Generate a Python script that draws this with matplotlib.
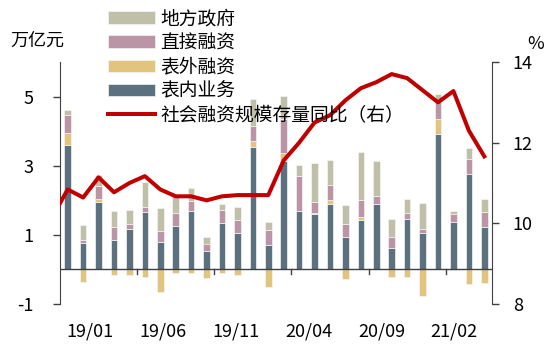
import numpy as np
import matplotlib
matplotlib.use('Agg')
import matplotlib.pyplot as plt

plt.rcParams['font.family'] = ['Noto Sans CJK SC', 'DejaVu Sans']
plt.rcParams['axes.unicode_minus'] = False

# monthly data, 19/01 .. 21/04 (trillion yuan)
on_bs = [3.59, 0.76, 1.94, 0.84, 1.18, 1.65, 0.78, 1.27, 1.70, 0.54, 1.33, 1.04, 3.53, 0.72,
         3.14, 1.70, 1.59, 1.90, 0.95, 1.44, 1.88, 0.63, 1.47, 1.04, 3.92, 1.38, 2.77, 1.23]
off_bs = [0.36, -0.36, 0.10, -0.15, -0.15, -0.23, -0.64, -0.11, -0.11, -0.24, -0.11, -0.15, 0.19, -0.50,
          0.23, 0.00, 0.03, 0.11, -0.28, 0.09, 0.00, -0.23, -0.21, -0.76, 0.43, -0.02, -0.43, -0.38]
direct = [0.51, 0.08, 0.36, 0.40, 0.14, 0.17, 0.34, 0.35, 0.28, 0.21, 0.38, 0.40, 0.44, 0.43,
          0.99, 0.99, 0.32, 0.42, 0.37, 0.48, 0.23, 0.32, 0.15, 0.14, 0.51, 0.21, 0.41, 0.44]
local_gov = [0.16, 0.44, 0.32, 0.46, 0.39, 0.70, 0.66, 0.54, 0.38, 0.19, 0.19, 0.38, 0.78, 0.21,
             0.67, 0.32, 1.13, 0.74, 0.54, 1.39, 1.03, 0.50, 0.42, 0.73, 0.22, 0.11, 0.33, 0.37]
# stock growth yoy (%), first value is 18/12 (clipped at the left edge)
tsf_yoy = [10.16, 10.84, 10.64, 11.14, 10.77, 11.0, 11.17, 10.84, 10.67, 10.67, 10.57, 10.67, 10.7, 10.7,
           10.7, 11.56, 12.0, 12.5, 12.68, 13.05, 13.35, 13.5, 13.7, 13.6, 13.3, 13.0, 13.28, 12.3, 11.66]

tick_labels = ['19/01', '19/06', '19/11', '20/04', '20/09', '21/02']
label_pos = [1.45, 6.2, 10.9, 15.6, 20.35, 25.05]

names = ['表内业务', '表外融资', '直接融资', '地方政府']
colors = ['#5b7180', '#e2c47e', '#bb94a6', '#c0c0a8']
line_name = '社会融资规模存量同比（右）'

fig = plt.figure(figsize=(5.54, 3.52), dpi=100)
ax = fig.add_axes([60 / 554, 1 - 304 / 352, 432 / 554, 242 / 352])
ax2 = ax.twinx()

x = np.arange(len(on_bs))
pos_bottom = np.zeros(len(x))
neg_bottom = np.zeros(len(x))
handles = []
for vals, name, c in zip([on_bs, off_bs, direct, local_gov], names, colors):
    v = np.array(vals)
    bottom = np.where(v >= 0, pos_bottom, neg_bottom)
    b = ax.bar(x, v, 0.42, bottom=bottom, color=c, edgecolor='#f4f4f4', linewidth=0.5,
               label=name, zorder=2)
    handles.append(b)
    pos_bottom = pos_bottom + np.clip(v, 0, None)
    neg_bottom = neg_bottom + np.clip(v, None, 0)

ax.axhline(0, color='#404040', lw=1, zorder=3)

line_x = np.arange(-1, len(on_bs))
ln, = ax2.plot(line_x, tsf_yoy, color='#c00000', lw=2.9, label=line_name, zorder=4)

ax.set_xlim(-0.5, len(on_bs) - 0.5)
ax.set_ylim(-1, 6)
ax2.set_ylim(8, 14)
ax.set_yticks([-1, 1, 3, 5])
ax2.set_yticks([8, 10, 12, 14])

for a in (ax, ax2):
    a.spines['top'].set_visible(False)
    a.spines['bottom'].set_visible(False)
    for s in a.spines.values():
        s.set_color('#404040')
ax.spines['right'].set_visible(False)
ax2.spines['left'].set_visible(False)

ax.tick_params(axis='y', direction='out', length=5, width=1, color='#404040',
               labelsize=13, pad=14)
ax2.tick_params(axis='y', direction='out', length=5, width=1, color='#404040',
                labelsize=13, pad=10)

# small ticks on the zero line every 5 months
ax.set_xticks([])
for t in np.arange(4.5, len(on_bs) - 1, 5):
    ax.plot([t, t], [0, -0.12], color='#404040', lw=1, zorder=3, clip_on=False)

for p, lab in zip(label_pos, tick_labels):
    ax.text(p, -0.115, lab, transform=ax.get_xaxis_transform(), ha='center', va='center',
            fontsize=13)

fig.text(37 / 554, 1 - 41 / 352, '万亿元', ha='center', va='center', fontsize=13)
fig.text(536 / 554, 1 - 44 / 352, '%', ha='center', va='center', fontsize=13)

leg = fig.legend(handles[::-1] + [ln], names[::-1] + [line_name], loc='upper left',
                 bbox_to_anchor=(108 / 554, 1 - 8 / 352), frameon=False, fontsize=13.5,
                 handlelength=2.5, handleheight=0.65, handletextpad=0.3, labelspacing=0.17,
                 borderpad=0, borderaxespad=0)
leg.set_zorder(10)

fig.savefig('out.png', dpi=100)
